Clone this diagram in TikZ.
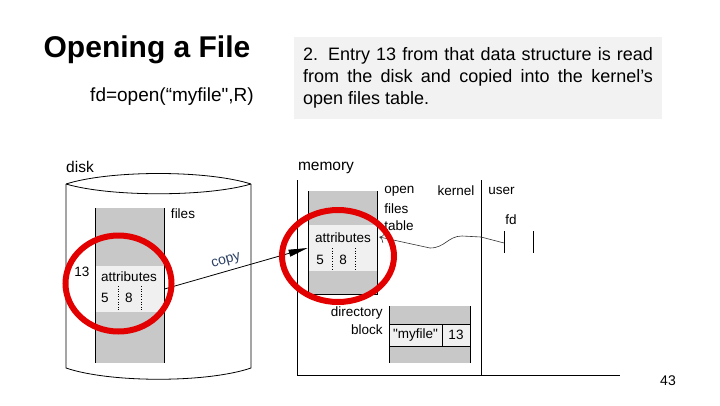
\documentclass[tikz,border=0pt]{standalone}
\usepackage{fontspec}
\setmainfont{Liberation Sans}
\usepackage{tikz}
\usetikzlibrary{arrows.meta,positioning,calc}
\definecolor{notegray}{RGB}{242,242,242}
\definecolor{tablegray}{RGB}{200,200,200}
\definecolor{rowgray}{RGB}{240,240,240}
\definecolor{markred}{RGB}{226,0,0}
\definecolor{copyblue}{RGB}{45,65,100}

\begin{document}
\begin{tikzpicture}[x=1pt, y=-1pt, line width=0.8pt]
\tikzstyle{lbl} = [inner sep=0pt, font=\fontsize{13.5}{15}\selectfont]
\tikzstyle{biglbl} = [inner sep=0pt, font=\fontsize{15.5}{17}\selectfont]
\tikzstyle{entry} = [rectangle, fill=rowgray, inner sep=0pt, minimum width=69pt, minimum height=46pt]
\tikzstyle{cell} = [rectangle, draw, fill=rowgray, inner sep=0pt, minimum height=22pt, font=\fontsize{13.5}{15}\selectfont]
\tikzstyle{cellsep} = [line width=0.6pt, dotted]
\tikzstyle{redring} = [draw=markred, line width=6pt]
\tikzstyle{arrow} = [line width=0.8pt, -{Triangle[length=19pt,width=7pt]}]

\useasboundingbox (0,0) rectangle (720,405);

% heading and note
\node (title) at (147,50) [inner sep=0pt, font=\fontsize{30}{36}\selectfont\bfseries] {Opening a File};
\node (call) at (172,97) [inner sep=0pt, font=\fontsize{19}{22}\selectfont] {fd=open(“myfile\textquotedbl,R)};
\node (note) at (478,78) [fill=notegray, minimum width=368pt, minimum height=82pt, text width=350pt, align=justify, inner sep=0pt, font=\fontsize{18}{22}\selectfont] {2. Entry 13 from that data structure is read\linebreak from the disk and copied into the kernel’s\linebreak open files table.};

% disk
\node (disklbl) at (80,167) [biglbl] {disk};
\draw (66,184) .. controls (110,170) and (207,170) .. (251,184);
\draw (66,184) .. controls (110,197) and (207,197) .. (251,184);
\draw (66,184) -- (66,368) .. controls (110,383) and (207,383) .. (251,368) -- (251,184);
\fill[tablegray] (95,208) rectangle (164,363);
\node (diskattr) at (129.5,289) [entry] {};
\draw (95,208) -- (95,363) (164,208) -- (164,363);
\node (diskattrtxt) at (129,277) [lbl] {attributes};
\node (diskfive) at (105,298) [lbl] {5};
\node (diskeight) at (129,298) [lbl] {8};
\draw[cellsep] (118,286) -- (118,310) (141,286) -- (141,310);
\node (disknum) at (82,272) [lbl] {13};
\node (diskfiles) at (183,214) [lbl] {files};

% memory
\node (memlbl) at (326,168) [biglbl] {memory};
\draw (297,180) -- (297,375) -- (620,375);
\draw (481,180) -- (481,375);
\fill[tablegray] (308,191) rectangle (377,294);
\node (memattr) at (342.5,248) [entry] {};
\draw (308,191) -- (308,294) -- (377,294) -- (377,191);
\node (memattrtxt) at (343,238) [lbl] {attributes};
\node (memfive) at (320,260) [lbl] {5};
\node (memeight) at (343,260) [lbl] {8};
\draw[cellsep] (332,248) -- (332,270) (355,248) -- (355,270);
\node (open) at (384,191) [lbl, anchor=west] {open};
\node (files) at (384,209) [lbl, anchor=west] {files};
\node (table) at (384,226) [lbl, anchor=west] {table};
\node (kernel) at (456,191) [lbl] {kernel};
\node (user) at (488,191) [lbl, anchor=west] {user};
\node (fd) at (511,220) [lbl] {fd};
\draw (504,231) -- (504,253) (533,231) -- (533,253);
\coordinate (fdslot) at (504,243);

% directory block
\fill[tablegray] (389,306) rectangle (470,363);
\node (dirname) at (415.5,335) [cell, minimum width=53pt] {\textquotedbl myfile\textquotedbl};
\node (dirnum) at (456,335) [cell, minimum width=28pt] {13};
\draw (389,306) -- (389,363) (470,306) -- (470,363);
\node (directory) at (383,313) [lbl, anchor=east] {directory};
\node (block) at (383,330) [lbl, anchor=east] {block};

% connectors
\draw[arrow] (diskattr.east) -- (memattr.west) node[pos=0.45, above=4pt, sloped, inner sep=0pt, text=copyblue, font=\fontsize{14}{16}\selectfont] (copylbl) {copy};
\draw[line width=0.6pt, black!80, -{To[length=5pt]}] (fdslot) -- (481,237) -- (462,236) .. controls (448,236) and (445,248) .. (430,248) -- ([xshift=2pt,yshift=11pt]memattr.east);

% red rings
\draw[redring] (118.5,283.5) ellipse [x radius=53, y radius=48];
\draw[redring] (338,256) ellipse [x radius=56, y radius=46];

\node (pagenum) at (668,381) [inner sep=0pt, font=\fontsize{14}{16}\selectfont] {43};
\end{tikzpicture}
\end{document}
